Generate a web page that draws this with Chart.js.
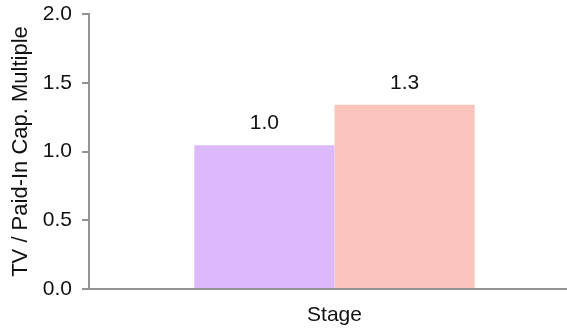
<!DOCTYPE html>
<html>
<head>
<meta charset="utf-8">
<script src="https://cdn.jsdelivr.net/npm/chart.js@4/dist/chart.umd.min.js"></script>
<style>
  html, body { margin: 0; padding: 0; background: #fff; overflow: hidden; }
  #wrap { width: 580px; height: 330px; }
</style>
</head>
<body>
<div id="wrap"><canvas id="c" width="580" height="330"></canvas></div>
<script>
// Terminal value / paid-in capital multiple by stage
const categories = ['Stage'];
const seriesNames = ['Series A', 'Series B'];
const seriesValues = [[1.046], [1.34]];
const seriesColors = ['#dbb9fb', '#f9c5bd'];
const yTicks = [0, 0.5, 1.0, 1.5, 2.0];

const FONT = '"Liberation Sans", Arial, sans-serif';
const AXIS = '#939393';
const TEXT = '#111';
const SIZE = 21;

// Value labels printed above each bar
const barLabels = {
  id: 'barLabels',
  afterDatasetsDraw(chart) {
    const ctx = chart.ctx;
    ctx.save();
    ctx.font = SIZE + 'px ' + FONT;
    ctx.fillStyle = TEXT;
    ctx.textAlign = 'center';
    ctx.textBaseline = 'middle';
    chart.data.datasets.forEach((ds, i) => {
      chart.getDatasetMeta(i).data.forEach((bar, j) => {
        ctx.fillText(ds.data[j].toFixed(1), bar.x, bar.y - 22);
      });
    });
    ctx.restore();
  }
};

new Chart(document.getElementById('c'), {
  type: 'bar',
  data: {
    labels: categories,
    datasets: seriesNames.map((name, i) => ({
      label: name,
      data: seriesValues[i],
      backgroundColor: seriesColors[i],
      borderWidth: 0,
      categoryPercentage: 0.571,
      barPercentage: 1.0
    }))
  },
  options: {
    responsive: false,
    animation: false,
    devicePixelRatio: 1,
    layout: { padding: 0 },
    plugins: { legend: { display: false }, tooltip: { enabled: false } },
    scales: {
      x: {
        grid: { display: false, drawTicks: false },
        border: { color: AXIS, width: 2 },
        ticks: { color: TEXT, font: { family: FONT, size: SIZE }, padding: 14 },
        afterFit(s) { s.height = 41; }
      },
      y: {
        min: 0,
        max: 2,
        afterBuildTicks(s) { s.ticks = yTicks.map(v => ({ value: v })); },
        grid: { drawOnChartArea: false, drawTicks: true, tickLength: 7, color: AXIS, lineWidth: 2 },
        border: { color: AXIS, width: 2 },
        ticks: {
          color: TEXT,
          font: { family: FONT, size: SIZE },
          padding: 10,
          callback: v => Number(v).toFixed(1)
        },
        title: {
          display: true,
          text: 'TV / Paid-In Cap. Multiple',
          color: TEXT,
          font: { family: FONT, size: 22 },
          padding: { top: 8, bottom: 0 }
        },
        afterFit(s) {
          s.width = 89;
          s.paddingTop = 14;
          s.paddingBottom = 0;
        }
      }
    }
  },
  plugins: [barLabels]
});
</script>
</body>
</html>
